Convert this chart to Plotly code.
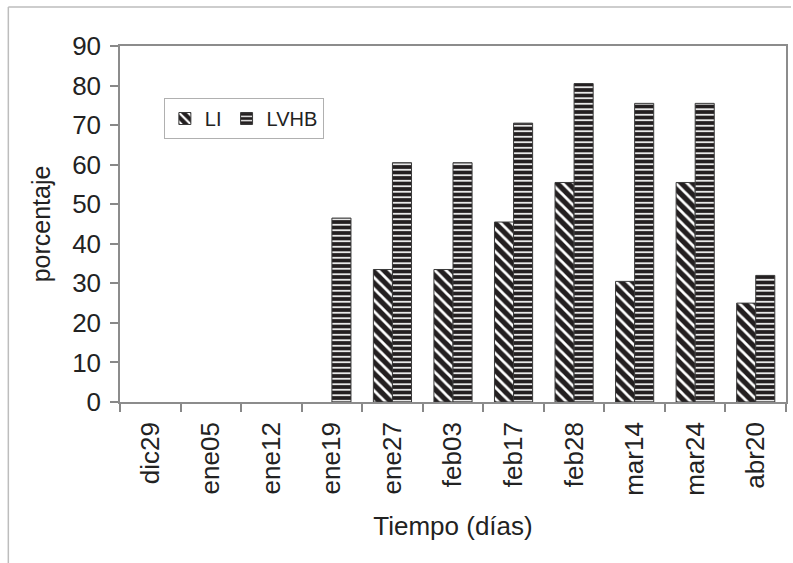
import plotly.graph_objects as go

categories = ["dic29", "ene05", "ene12", "ene19", "ene27", "feb03", "feb17", "feb28", "mar14", "mar24", "abr20"]
li_values = [None, None, None, None, 33.5, 33.5, 45.5, 55.5, 30.5, 55.5, 25]
lvhb_values = [None, None, None, 46.5, 60.5, 60.5, 70.5, 80.5, 75.5, 75.5, 32]
y_ticks = [0, 10, 20, 30, 40, 50, 60, 70, 80, 90]

W, H = 793, 563
ML, MR, MT, MB = 120, 5, 46, 161
PW, PH = W - ML - MR, H - MT - MB

def px_x(x):
    return (x - ML) / PW

def px_y(y):
    return (H - MB - y) / PH

FONT = "Liberation Sans, Arial, sans-serif"
DARK = "#231f20"
TXT = "#222"

fig = go.Figure()
fig.add_trace(go.Bar(
    name="LI", x=categories, y=li_values,
    marker=dict(color=DARK, line=dict(color="#3a3a3a", width=1),
                pattern=dict(shape="\\", fillmode="replace", bgcolor=DARK,
                             fgcolor="white", size=8, solidity=0.35)),
))
fig.add_trace(go.Bar(
    name="LVHB", x=categories, y=lvhb_values,
    marker=dict(color=DARK, line=dict(color="#3a3a3a", width=1),
                pattern=dict(shape="-", fillmode="replace", bgcolor=DARK,
                             fgcolor="white", size=5.5, solidity=0.3)),
))

fig.update_layout(
    width=W, height=H,
    margin=dict(l=ML, r=MR, t=MT, b=MB, pad=0),
    paper_bgcolor="white", plot_bgcolor="white",
    barmode="group", bargap=0.37, bargroupgap=0,
    font=dict(family=FONT, size=26, color=TXT),
    showlegend=True,
    legend=dict(
        orientation="h", x=px_x(164), y=px_y(98), xanchor="left", yanchor="top",
        bordercolor="#b0b0b0", borderwidth=1, bgcolor="white",
        font=dict(family=FONT, size=20, color=TXT),
        itemwidth=30, tracegroupgap=0,
    ),
    shapes=[
        dict(type="line", xref="paper", yref="paper",
             x0=px_x(8), x1=px_x(W), y0=px_y(7), y1=px_y(7),
             line=dict(color="#bdbdbd", width=1.5)),
        dict(type="line", xref="paper", yref="paper",
             x0=px_x(8), x1=px_x(8), y0=px_y(7), y1=px_y(H),
             line=dict(color="#bdbdbd", width=1.5)),
    ],
)

fig.update_xaxes(
    type="category", tickangle=-90, tickson="boundaries",
    ticks="outside", ticklen=8, tickcolor="#888", tickwidth=1.5,
    showline=True, linecolor="#8c8c8c", linewidth=1.5, mirror=True,
    showgrid=False, zeroline=False, ticklabelstandoff=8,
    tickfont=dict(family=FONT, size=26, color=TXT),
    title=dict(text="Tiempo (días)", font=dict(family=FONT, size=26, color=TXT), standoff=22),
)
fig.update_yaxes(
    range=[0, 90], tickvals=y_ticks, ticktext=[str(v) for v in y_ticks],
    ticks="outside", ticklen=8, tickcolor="#888", tickwidth=1.5,
    showline=True, linecolor="#8c8c8c", linewidth=1.5, mirror=True,
    showgrid=False, zeroline=False, ticklabelstandoff=4,
    tickfont=dict(family=FONT, size=26, color=TXT),
    title=dict(text="porcentaje", font=dict(family=FONT, size=25, color=TXT), standoff=14),
)

fig.write_html("out.html")
